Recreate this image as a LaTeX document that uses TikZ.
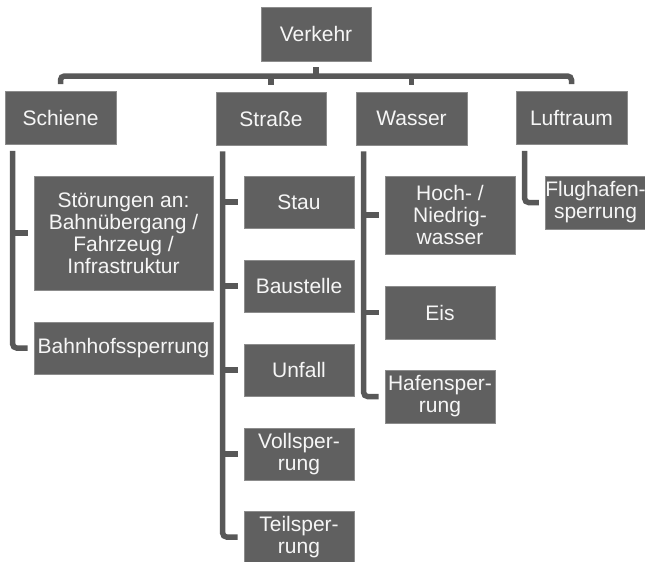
\documentclass[tikz,border=0pt]{standalone}
\usepackage{fontspec}
\setmainfont{Liberation Sans}
\definecolor{boxfill}{RGB}{96,96,96}
\definecolor{boxedge}{RGB}{140,140,140}
\definecolor{boxtext}{RGB}{246,246,246}
\definecolor{linegray}{RGB}{88,88,88}
\begin{document}
\begin{tikzpicture}[x=1pt,y=-1pt,
  box/.style={draw=boxedge, line width=0.7pt, fill=boxfill, text=boxtext,
    inner sep=0pt, align=center, font=\fontsize{21}{22}\selectfont},
  bw/.style={minimum width=#1},
  bh/.style={minimum height=#1},
  conn/.style={draw=linegray, line width=5.5pt, rounded corners=4pt}]
\useasboundingbox (0,0) rectangle (645,562);

% root and first level
\node[box,bw=110,bh=54] (verkehr)  at (316,34)    {Verkehr};
\node[box,bw=111,bh=53] (schiene)  at (60.5,118)  {Schiene};
\node[box,bw=110,bh=53] (strasse)  at (271,118.5) {Straße};
\node[box,bw=111,bh=53] (wasser)   at (411.5,118.5) {Wasser};
\node[box,bw=111,bh=53] (luftraum) at (571.5,118) {Luftraum};

% Schiene
\node[box,bw=179,bh=114] (stoer)   at (123.5,233) {Störungen an:\\Bahnübergang /\\Fahrzeug /\\Infrastruktur};
\node[box,bw=179,bh=52]  (bahnhof) at (123.5,348) {Bahnhofssperrung};

% Straße
\node[box,bw=110,bh=52] (stau)      at (299,202) {Stau};
\node[box,bw=110,bh=52] (baustelle) at (299,286) {Baustelle};
\node[box,bw=110,bh=52] (unfall)    at (299,370) {Unfall};
\node[box,bw=110,bh=52] (voll)      at (299,454) {Vollsper-\\rung};
\node[box,bw=110,bh=52] (teil)      at (299,537) {Teilsper-\\rung};

% Wasser
\node[box,bw=130,bh=78] (hoch)  at (450,215)   {Hoch- /\\Niedrig-\\wasser};
\node[box,bw=110,bh=53] (eis)   at (440,312.5) {Eis};
\node[box,bw=110,bh=53] (hafen) at (440,396.5) {Hafensper-\\rung};

% Luftraum
\node[box,bw=99,bh=53] (flug) at (595.5,202.5) {Flughafen-\\sperrung};

% bus below the root
\coordinate (bus) at (316,76);
\draw[conn] ([yshift=-6pt]verkehr.south) -- (verkehr.south |- bus);
\draw[conn] ([yshift=7pt]schiene.north) |- (bus) -| ([yshift=7pt]luftraum.north);
\draw[conn] ([yshift=7pt]strasse.north) -- (strasse.north |- bus);
\draw[conn] ([yshift=7pt]wasser.north) -- (wasser.north |- bus);

% Schiene branch
\coordinate (sl) at ([xshift=8pt,yshift=-6pt]schiene.south west);
\draw[conn] (sl) |- ([xshift=-6pt]bahnhof.west);
\draw[conn] (sl |- stoer.west) -- ([xshift=-6pt]stoer.west);

% Straße branch
\coordinate (tl) at ([xshift=7pt,yshift=-6pt]strasse.south west);
\draw[conn] (tl) |- ([xshift=-6pt]teil.west);
\foreach \c in {stau,baustelle,unfall,voll}
  \draw[conn] (tl |- \c.west) -- ([xshift=-6pt]\c.west);

% Wasser branch
\coordinate (wl) at ([xshift=8pt,yshift=-6pt]wasser.south west);
\draw[conn] (wl) |- ([xshift=-6pt]hafen.west);
\foreach \c in {hoch,eis}
  \draw[conn] (wl |- \c.west) -- ([xshift=-6pt]\c.west);

% Luftraum branch
\coordinate (ll) at ([xshift=9pt,yshift=-6pt]luftraum.south west);
\draw[conn] (ll) |- ([xshift=-6pt]flug.west);
\end{tikzpicture}
\end{document}
